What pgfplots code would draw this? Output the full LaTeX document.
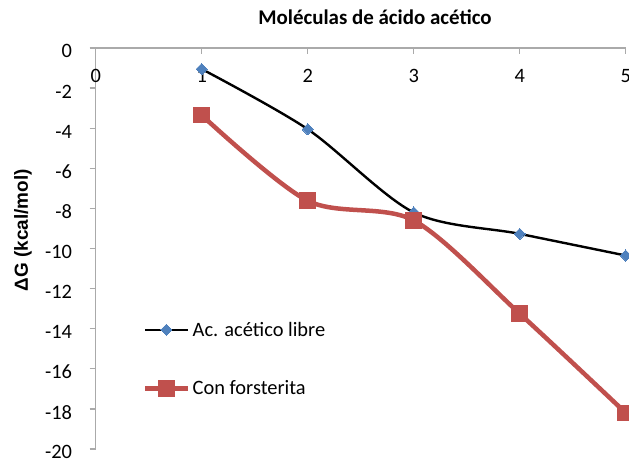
\documentclass[border=0pt]{standalone}
\usepackage{fontspec}
\setmainfont{Carlito}
\newfontfamily\arialfont{Liberation Sans}
\usepackage{pgfplots}
\pgfplotsset{compat=1.18}
\definecolor{axgray}{RGB}{170,170,170}
\definecolor{exblue}{RGB}{79,129,189}
\definecolor{exred}{RGB}{192,80,77}
\begin{document}
\begin{tikzpicture}
\path[use as bounding box] (0bp,0bp) rectangle (629bp,460bp);
\clip (0bp,0bp) rectangle (629bp,460bp);
\begin{axis}[
  at={(95.7bp,412bp)}, anchor=north west,
  scale only axis, width=530bp, height=401bp,
  xmin=0, xmax=5, ymin=-20, ymax=0,
  clip=false,
  axis x line*=top, axis y line*=left,
  axis line style={axgray, line width=1.3bp, -},
  xtick={0,1,2,3,4,5}, ytick={-20,-18,-16,-14,-12,-10,-8,-6,-4,-2,0},
  major tick length=6bp,
  tick style={axgray, line width=1.3bp},
  xtick align=inside, ytick align=outside,
  /pgf/number format/assume math mode=true,
  tick label style={font=\fontsize{20.5}{24}\selectfont, text=black},
  xticklabel style={anchor=north, inner sep=0pt, yshift=-21bp},
  yticklabel style={anchor=east, inner sep=0pt, xshift=-17.5bp, yshift=-3.3bp},
  title={Moléculas de ácido acético},
  title style={at={(axis description cs:0.527,1.0449)}, anchor=base, inner sep=0pt, font=\fontsize{21}{25}\selectfont\bfseries},
  ylabel={\arialfont\bfseries ΔG (kcal/mol)},
  every axis y label/.style={at={(axis description cs:-0.1372,0.546)}, rotate=90, anchor=center, font=\fontsize{19}{22}\selectfont},
  legend image code/.code={\draw[mark repeat=2,mark phase=2,#1] plot coordinates {(0bp,0bp) (21bp,0bp) (42bp,0bp)};},
  legend cell align=left,
  legend style={draw=none, fill=none, at={(axis description cs:0.0892,0.2244)}, anchor=west, inner sep=0pt, row sep=43bp,
    font=\fontsize{20.5}{24}\selectfont, nodes={inner sep=0pt},
    /tikz/every odd column/.style={column sep=3bp}},
]
\addplot[black, line width=2.4bp, smooth, mark=square*, mark size=3.9bp,
  mark options={exblue, draw=exblue, fill=exblue, rotate=45, line width=0pt, solid}]
  coordinates {(1,-1.05) (2,-4.05) (3,-8.2) (4,-9.27) (5,-10.35)};
\addlegendentry{Ac. acético libre}
\addplot[exred, line width=4.5bp, smooth, mark=square*, mark size=7.8bp,
  mark options={exred, fill=exred, line width=0pt, solid}]
  coordinates {(1,-3.35) (2,-7.62) (3,-8.6) (4,-13.25) (5,-18.2)};
\addlegendentry{Con forsterita}
\end{axis}
\end{tikzpicture}
\end{document}
